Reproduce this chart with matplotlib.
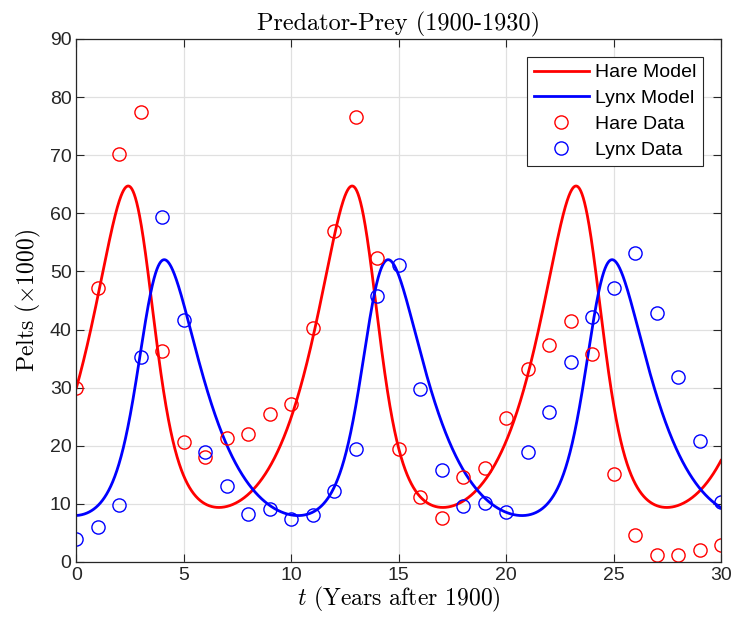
import numpy as np
import matplotlib
matplotlib.use("Agg")
import matplotlib.pyplot as plt

plt.rcParams["mathtext.fontset"] = "cm"
plt.rcParams["font.family"] = ["Liberation Sans", "DejaVu Sans"]

# observed pelts (x1000), 1900-1930
years = np.arange(0, 31)
hare = [30.0, 47.2, 70.2, 77.4, 36.3, 20.6, 18.1, 21.4, 22.0, 25.4, 27.1,
        40.3, 57.0, 76.6, 52.3, 19.5, 11.2, 7.6, 14.6, 16.2, 24.7,
        33.2, 37.3, 41.4, 35.8, 15.1, 4.7, 1.15, 1.15, 2.07, 2.9]
lynx = [4.0, 6.1, 9.8, 35.2, 59.4, 41.7, 19.0, 13.0, 8.3, 9.1, 7.4,
        8.0, 12.3, 19.5, 45.7, 51.1, 29.7, 15.8, 9.7, 10.1, 8.6,
        19.0, 25.8, 34.4, 42.1, 47.2, 53.2, 42.9, 31.8, 20.8, 10.4]

# Lotka-Volterra model parameters
h_eq, l_eq = 28.65, 23.5
s, ratio = 0.647, 1.059
a = s * np.sqrt(ratio)
c = s / np.sqrt(ratio)
b = a / l_eq
d = c / h_eq
h0, l0 = 30.0, 8.0


def rhs(y):
    h, l = y
    return np.array([a * h - b * h * l, -c * l + d * h * l])


dt = 0.005
t = np.arange(0, 30 + dt / 2, dt)
sol = np.zeros((len(t), 2))
sol[0] = [h0, l0]
for i in range(len(t) - 1):
    y = sol[i]
    k1 = rhs(y)
    k2 = rhs(y + dt / 2 * k1)
    k3 = rhs(y + dt / 2 * k2)
    k4 = rhs(y + dt * k3)
    sol[i + 1] = y + dt / 6 * (k1 + 2 * k2 + 2 * k3 + k4)

fig = plt.figure(figsize=(7.35, 6.35), dpi=100)
ax = fig.add_axes([0.104, 0.115, 0.877, 0.8236])

ax.plot(t, sol[:, 0], color="#ff0000", lw=2.0, label="Hare Model")
ax.plot(t, sol[:, 1], color="#0000ff", lw=2.0, label="Lynx Model")
ax.plot(years, hare, "o", mfc="none", mec="#ff0000", ms=9.5, mew=1.0, label="Hare Data")
ax.plot(years, lynx, "o", mfc="none", mec="#0000ff", ms=9.5, mew=1.0, label="Lynx Data")

ax.set_xlim(0, 30)
ax.set_ylim(0, 90)
ax.set_xticks(range(0, 31, 5))
ax.set_yticks(range(0, 91, 10))
ax.grid(True, color="#e0e0e0", lw=0.9)
ax.set_axisbelow(True)
ax.tick_params(direction="in", top=True, right=True, labelsize=14,
               colors="#262626", length=6, width=0.8)
for sp in ax.spines.values():
    sp.set_color("#262626")
    sp.set_linewidth(0.9)

ax.set_title("Predator-Prey (1900-1930)", fontfamily="cmr10", fontsize=17.5, pad=6)
ax.set_xlabel(r"$t$ (Years after 1900)", fontfamily="cmr10", fontsize=17, labelpad=1)
ax.set_ylabel(r"Pelts ($\times$1000)", fontfamily="cmr10", fontsize=17, labelpad=5)

leg = ax.legend(loc="upper right", fontsize=14, fancybox=False, framealpha=1,
                edgecolor="#262626", handlelength=2.85, borderpad=0.35,
                labelspacing=0.42, handletextpad=0.3, borderaxespad=0.93)
leg.get_frame().set_linewidth(0.8)

fig.savefig("out.png", dpi=100)
